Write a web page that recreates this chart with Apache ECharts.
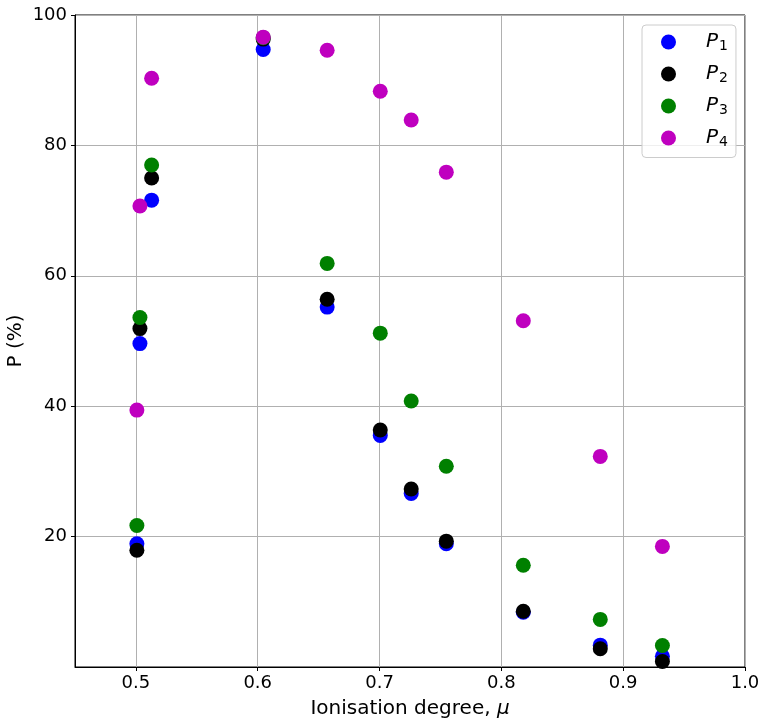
<!DOCTYPE html>
<html>
<head>
<meta charset="utf-8">
<script src="https://cdn.jsdelivr.net/npm/echarts@6/dist/echarts.min.js"></script>
<style>
html,body{margin:0;padding:0;background:#fff;}
#chart{width:768px;height:727px;}
</style>
</head>
<body>
<div id="chart"></div>
<script>
// Ionisation degree values
const mu = [0.5008, 0.5033, 0.5129, 0.6045, 0.657, 0.7006, 0.726, 0.7548, 0.818, 0.8812, 0.9322];
const P1 = [18.9, 49.6, 71.6, 94.7, 55.2, 35.5, 26.6, 18.9, 8.4, 3.35, 1.65];
const P2 = [17.9, 51.9, 75.0, 96.3, 56.4, 36.35, 27.3, 19.3, 8.55, 2.8, 0.85];
const P3 = [21.7, 53.6, 77.0, 96.5, 61.9, 51.2, 40.8, 30.8, 15.6, 7.3, 3.3];
const P4 = [39.4, 70.7, 90.3, 96.6, 94.6, 88.3, 83.9, 75.9, 53.1, 32.3, 18.5];
const xTicks = [0.5, 0.6, 0.7, 0.8, 0.9, 1.0];
const yTicks = [20, 40, 60, 80, 100];
const seriesNames = ['P1', 'P2', 'P3', 'P4'];
const seriesColors = ['#0000ff', '#000000', '#008000', '#bf00bf'];
const seriesData = [P1, P2, P3, P4];

const font = 'DejaVu Sans';
const chart = echarts.init(document.getElementById('chart'), null, {renderer: 'canvas'});

const option = {
  animation: false,
  backgroundColor: '#ffffff',
  grid: {left: 75, right: 23, top: 15, bottom: 60, containLabel: false, outerBoundsMode: 'none',
    show: true, borderColor: '#000', borderWidth: 1, backgroundColor: 'transparent'},
  xAxis: {
    type: 'value', min: 0.45, max: 1.0, splitNumber: 5,
    name: 'Ionisation degree, {m|\u03bc}', nameLocation: 'middle', nameGap: 32, nameMoveOverlap: false,
    nameTextStyle: {fontFamily: font, fontSize: 20, color: '#000',
      rich: {m: {fontFamily: font, fontSize: 20, fontStyle: 'italic', color: '#000'}}},
    axisLine: {show: true, onZero: false, lineStyle: {color: '#000', width: 1}},
    axisTick: {show: true, inside: false, length: 4, customValues: xTicks, lineStyle: {color: '#000'}},
    axisLabel: {customValues: xTicks, margin: 7, fontFamily: font, fontSize: 18, color: '#000',
      formatter: v => v.toFixed(1)},
    splitLine: {show: true, lineStyle: {color: '#b0b0b0', width: 1}}
  },
  yAxis: {
    type: 'value', min: 0, max: 100, interval: 20,
    name: 'P (%)', nameLocation: 'middle', nameGap: 49, nameMoveOverlap: false,
    nameTextStyle: {fontFamily: font, fontSize: 20, color: '#000'},
    axisLine: {show: true, lineStyle: {color: '#000', width: 1}},
    axisTick: {show: true, length: 4, customValues: yTicks, lineStyle: {color: '#000'}},
    axisLabel: {customValues: yTicks, margin: 8, fontFamily: font, fontSize: 18, color: '#000'},
    splitLine: {show: true, lineStyle: {color: '#b0b0b0', width: 1}}
  },
  legend: {
    orient: 'vertical', left: 642, top: 25,
    data: seriesNames,
    icon: 'circle', itemWidth: 15, itemHeight: 15, itemGap: 10.5,
    padding: [7, 8, 8, 19],
    borderColor: '#cccccc', borderWidth: 1, borderRadius: 4, backgroundColor: 'rgba(255,255,255,0.8)',
    formatter: name => '{g|}{p|P}{s|' + name.slice(1) + '}',
    textStyle: {
      fontFamily: font, color: '#000',
      rich: {
        g: {width: 25},
        p: {fontFamily: font, fontSize: 20, fontStyle: 'italic', color: '#000', lineHeight: 20},
        s: {fontFamily: font, fontSize: 14, color: '#000', padding: [9, 0, 0, 1]}
      }
    }
  },
  series: seriesNames.map((n, i) => ({
    name: n, type: 'scatter', symbol: 'circle', symbolSize: 15,
    itemStyle: {color: seriesColors[i], opacity: 1},
    data: mu.map((x, j) => [x, seriesData[i][j]]),
    z: 2 + i
  }))
};
chart.setOption(option);
</script>
</body>
</html>
